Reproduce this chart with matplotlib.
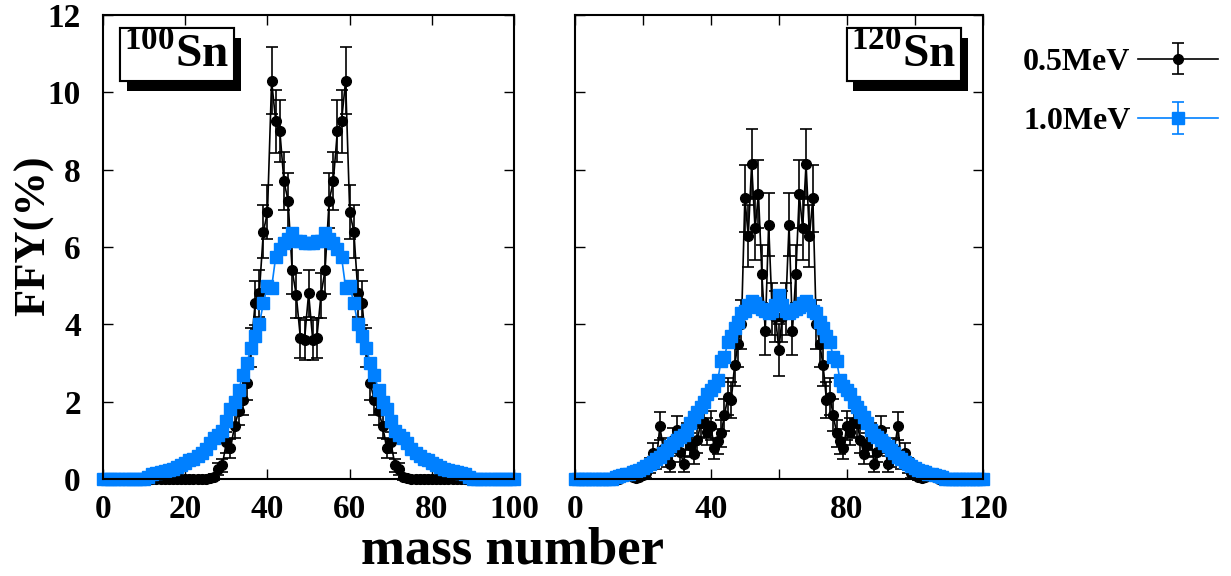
import numpy as np
import matplotlib.pyplot as plt
from matplotlib import patheffects

plt.rcParams['font.family'] = ['Liberation Serif', 'DejaVu Serif']
plt.rcParams['font.weight'] = 'bold'
plt.rcParams['mathtext.fontset'] = 'custom'
plt.rcParams['mathtext.rm'] = 'Liberation Serif:bold'
plt.rcParams['mathtext.bf'] = 'Liberation Serif:bold'

# ---------------- data: 100Sn ----------------
mass_100 = np.arange(0, 101)
ffy_100_05 = [0, 0, 0, 0, 0, 0, 0, 0, 0, 0,
              0, 0, 0, 0, 0, 0, 0, 0, 0, 0,
              0, 0, 0, 0, 0, 0, 0.02, 0.06, 0.26, 0.36,
              0.95, 0.79, 1.38, 1.75, 2.04, 2.47, 3.4, 4.55, 4.8, 6.4,
              6.9, 10.3, 9.25, 9.0, 7.7, 7.2, 5.4, 4.75, 3.65, 3.6,
              4.8,
              3.6, 3.65, 4.75, 5.4, 7.2, 7.7, 9.0, 9.25, 10.3, 6.9,
              6.4, 4.8, 4.55, 3.4, 2.47, 2.04, 1.75, 1.38, 0.79, 0.95,
              0.36, 0.26, 0.06, 0.02, 0, 0, 0, 0, 0, 0,
              0, 0, 0, 0, 0, 0, 0, 0, 0, 0,
              0, 0, 0, 0, 0, 0, 0, 0, 0, 0]
err_100_05 = [0, 0, 0, 0, 0, 0, 0, 0, 0, 0,
              0, 0, 0, 0, 0, 0, 0, 0, 0, 0,
              0, 0, 0, 0, 0, 0, 0.05, 0.08, 0.15, 0.17,
              0.27, 0.25, 0.32, 0.36, 0.38, 0.43, 0.5, 0.58, 0.6, 0.68,
              0.7, 0.86, 0.82, 0.8, 0.75, 0.72, 0.62, 0.58, 0.52, 0.52,
              0.6,
              0.52, 0.52, 0.58, 0.62, 0.72, 0.75, 0.8, 0.82, 0.86, 0.7,
              0.68, 0.6, 0.58, 0.5, 0.43, 0.38, 0.36, 0.32, 0.25, 0.27,
              0.17, 0.15, 0.08, 0.05, 0, 0, 0, 0, 0, 0,
              0, 0, 0, 0, 0, 0, 0, 0, 0, 0,
              0, 0, 0, 0, 0, 0, 0, 0, 0, 0]
ffy_100_10 = [0, 0, 0, 0, 0, 0, 0, 0, 0, 0,
              0, 0.06, 0.12, 0.15, 0.18, 0.2, 0.23, 0.27, 0.31, 0.36,
              0.42, 0.48, 0.52, 0.6, 0.68, 0.78, 0.92, 1.05, 1.15, 1.25,
              1.5, 1.8, 2.0, 2.3, 2.7, 3.0, 3.4, 3.7, 4.0, 4.55,
              5.0, 4.95, 5.75, 5.95, 6.1, 6.2, 6.35, 6.15, 6.15, 6.1,
              6.1,
              6.1, 6.15, 6.15, 6.35, 6.2, 6.1, 5.95, 5.75, 4.95, 5.0,
              4.55, 4.0, 3.7, 3.4, 3.0, 2.7, 2.3, 2.0, 1.8, 1.5,
              1.25, 1.15, 1.05, 0.92, 0.78, 0.68, 0.6, 0.52, 0.48, 0.42,
              0.36, 0.31, 0.27, 0.23, 0.2, 0.18, 0.15, 0.12, 0.06, 0,
              0, 0, 0, 0, 0, 0, 0, 0, 0, 0]
err_100_10 = [0, 0, 0, 0, 0, 0, 0, 0, 0, 0,
              0, 0.01, 0.02, 0.02, 0.02, 0.02, 0.02, 0.03, 0.03, 0.03,
              0.03, 0.03, 0.03, 0.04, 0.04, 0.04, 0.05, 0.05, 0.05, 0.05,
              0.06, 0.06, 0.07, 0.07, 0.08, 0.08, 0.08, 0.09, 0.09, 0.1,
              0.1, 0.1, 0.11, 0.11, 0.12, 0.12, 0.12, 0.12, 0.12, 0.12,
              0.12,
              0.12, 0.12, 0.12, 0.12, 0.12, 0.12, 0.11, 0.11, 0.1, 0.1,
              0.1, 0.09, 0.09, 0.08, 0.08, 0.08, 0.07, 0.07, 0.06, 0.06,
              0.05, 0.05, 0.05, 0.05, 0.04, 0.04, 0.04, 0.03, 0.03, 0.03,
              0.03, 0.03, 0.03, 0.02, 0.02, 0.02, 0.02, 0.02, 0.01, 0,
              0, 0, 0, 0, 0, 0, 0, 0, 0, 0]

# ---------------- data: 120Sn ----------------
mass_120 = np.arange(0, 121)
ffy_120_05 = [0, 0, 0, 0, 0, 0, 0, 0, 0, 0,
              0, 0, 0, 0, 0.05, 0.15, 0.1, 0.05, 0.02, 0.05,
              0.1, 0.15, 0.35, 0.68, 0.5, 1.37, 0.78, 0.55, 0.39, 1.0,
              1.28, 0.7, 0.39, 1.1, 0.88, 0.65, 1.0, 1.44, 1.48, 1.22,
              1.38, 0.79, 0.97, 1.18, 1.65, 2.13, 2.05, 2.95, 3.5, 4.0,
              7.26, 6.28, 8.15, 6.48, 7.37, 5.3, 3.83, 6.58, 4.4, 4.2,
              3.34,
              4.2, 4.4, 6.58, 3.83, 5.3, 7.37, 6.48, 8.15, 6.28, 7.26,
              4.0, 3.5, 2.95, 2.05, 2.13, 1.65, 1.18, 0.97, 0.79, 1.38,
              1.22, 1.48, 1.44, 1.0, 0.65, 0.88, 1.1, 0.39, 0.7, 1.28,
              1.0, 0.39, 0.55, 0.78, 1.37, 0.5, 0.68, 0.35, 0.15, 0.1,
              0.05, 0.02, 0.05, 0.1, 0.15, 0.05, 0, 0, 0, 0,
              0, 0, 0, 0, 0, 0, 0, 0, 0, 0]
err_120_05 = [0, 0, 0, 0, 0, 0, 0, 0, 0, 0,
              0, 0, 0, 0, 0.07, 0.12, 0.1, 0.07, 0.05, 0.07,
              0.1, 0.12, 0.19, 0.26, 0.23, 0.37, 0.28, 0.24, 0.2, 0.32,
              0.36, 0.27, 0.2, 0.34, 0.3, 0.26, 0.32, 0.38, 0.39, 0.35,
              0.38, 0.28, 0.32, 0.35, 0.41, 0.47, 0.46, 0.55, 0.6, 0.64,
              0.86, 0.8, 0.91, 0.81, 0.87, 0.74, 0.63, 0.82, 0.67, 0.66,
              0.67,
              0.66, 0.67, 0.82, 0.63, 0.74, 0.87, 0.81, 0.91, 0.8, 0.86,
              0.64, 0.6, 0.55, 0.46, 0.47, 0.41, 0.35, 0.32, 0.28, 0.38,
              0.35, 0.39, 0.38, 0.32, 0.26, 0.3, 0.34, 0.2, 0.27, 0.36,
              0.32, 0.2, 0.24, 0.28, 0.37, 0.23, 0.26, 0.19, 0.12, 0.1,
              0.07, 0.05, 0.07, 0.1, 0.12, 0.07, 0, 0, 0, 0,
              0, 0, 0, 0, 0, 0, 0, 0, 0, 0]
ffy_120_10 = [0, 0, 0, 0, 0, 0, 0, 0, 0, 0,
              0, 0, 0.05, 0.08, 0.1, 0.12, 0.14, 0.17, 0.2, 0.23,
              0.28, 0.33, 0.4, 0.45, 0.52, 0.58, 0.66, 0.76, 0.85, 0.93,
              1.01, 1.08, 1.15, 1.28, 1.45, 1.6, 1.72, 1.85, 2.0, 2.2,
              2.3, 2.4, 2.55, 3.05, 3.15, 3.55, 3.7, 3.9, 4.05, 4.3,
              4.35, 4.5, 4.6, 4.55, 4.45, 4.4, 4.35, 4.3, 4.35, 4.5,
              4.75,
              4.5, 4.35, 4.3, 4.35, 4.4, 4.45, 4.55, 4.6, 4.5, 4.35,
              4.3, 4.05, 3.9, 3.7, 3.55, 3.15, 3.05, 2.55, 2.4, 2.3,
              2.2, 2.0, 1.85, 1.72, 1.6, 1.45, 1.28, 1.15, 1.08, 1.01,
              0.93, 0.85, 0.76, 0.66, 0.58, 0.52, 0.45, 0.4, 0.33, 0.28,
              0.23, 0.2, 0.17, 0.14, 0.12, 0.1, 0.08, 0.05, 0, 0,
              0, 0, 0, 0, 0, 0, 0, 0, 0, 0]
err_120_10 = [0, 0, 0, 0, 0, 0, 0, 0, 0, 0,
              0, 0, 0.01, 0.01, 0.02, 0.02, 0.02, 0.02, 0.03, 0.03,
              0.03, 0.03, 0.04, 0.04, 0.04, 0.05, 0.05, 0.05, 0.06, 0.06,
              0.06, 0.06, 0.07, 0.07, 0.07, 0.08, 0.08, 0.08, 0.09, 0.09,
              0.09, 0.1, 0.1, 0.1, 0.1, 0.11, 0.11, 0.11, 0.12, 0.12,
              0.12, 0.12, 0.12, 0.12, 0.12, 0.12, 0.12, 0.12, 0.12, 0.12,
              0.12,
              0.12, 0.12, 0.12, 0.12, 0.12, 0.12, 0.12, 0.12, 0.12, 0.12,
              0.12, 0.12, 0.11, 0.11, 0.11, 0.1, 0.1, 0.1, 0.1, 0.09,
              0.09, 0.09, 0.08, 0.08, 0.08, 0.07, 0.07, 0.07, 0.06, 0.06,
              0.06, 0.06, 0.05, 0.05, 0.05, 0.04, 0.04, 0.04, 0.03, 0.03,
              0.03, 0.03, 0.02, 0.02, 0.02, 0.02, 0.01, 0.01, 0, 0,
              0, 0, 0, 0, 0, 0, 0, 0, 0, 0]

labels = ['0.5MeV', '1.0MeV']
black = 'black'
blue = '#0080ff'

fig = plt.figure(figsize=(12.31, 5.76), dpi=100)
ax1 = fig.add_axes([0.0837, 0.1684, 0.334, 0.8056])
ax2 = fig.add_axes([0.467, 0.1684, 0.3314, 0.8056])


def draw_panel(ax, mass, y05, e05, y10, e10):
    h1 = ax.errorbar(mass, y05, yerr=e05, fmt='-o', color=black, ms=7,
                     lw=1.2, elinewidth=1.2, capsize=4, capthick=1.2,
                     clip_on=False, zorder=3)
    h2 = ax.errorbar(mass, y10, yerr=e10, fmt='-s', color=blue, ms=8.5,
                     lw=1.2, elinewidth=1.2, capsize=4, capthick=1.2,
                     clip_on=False, zorder=4)
    ax.set_ylim(0, 12)
    ax.set_yticks(np.arange(0, 13, 2))
    ax.tick_params(direction='in', length=7, width=1.0, top=True, right=True,
                   labelsize=24)
    ax.tick_params(axis='x', pad=11)
    ax.tick_params(axis='y', pad=16)
    ax.tick_params(which='minor', direction='in', length=7, width=1.0,
                   top=True, right=True)
    for s in ax.spines.values():
        s.set_linewidth(1.5)
        s.set_zorder(5)
    return h1, h2


h1, h2 = draw_panel(ax1, mass_100, ffy_100_05, err_100_05, ffy_100_10, err_100_10)
ax1.set_xlim(0, 100)
ax1.set_xticks(np.arange(0, 101, 20))

draw_panel(ax2, mass_120, ffy_120_05, err_120_05, ffy_120_10, err_120_10)
ax2.set_xlim(0, 120)
ax2.set_xticks([0, 40, 80, 120])
ax2.set_xticks([20, 60, 100], minor=True)
ax2.tick_params(labelleft=False)

fig.text(0.028, 0.59, 'FFY(%)', fontsize=32, fontweight='bold',
         rotation=90, ha='center', va='center')
fig.text(0.416, 0.022, 'mass number', fontsize=38, fontweight='bold',
         ha='center', va='baseline')

# nucleus labels with shadowed boxes
for ax, txt, xpos, ha in [(ax1, r'$^{\mathbf{100}}\mathbf{Sn}$', 0.052, 'left'),
                          (ax2, r'$^{\mathbf{120}}\mathbf{Sn}$', 0.935, 'right')]:
    t = ax.text(xpos, 0.962, txt, transform=ax.transAxes, fontsize=34,
                ha=ha, va='top', zorder=6,
                bbox=dict(boxstyle='square,pad=0.1', fc='white', ec='black', lw=1.5))
    t.get_bbox_patch().set_path_effects([
        patheffects.withSimplePatchShadow(offset=(5, -7), shadow_rgbFace='black', alpha=1.0),
        patheffects.Normal()])

fig.legend([h1, h2], labels, loc='upper right', bbox_to_anchor=(1.0, 0.94),
           frameon=False, markerfirst=False, fontsize=23, handlelength=2.5,
           labelspacing=0.95, handletextpad=0.25, borderaxespad=0)

fig.savefig('out.png', dpi=100)
